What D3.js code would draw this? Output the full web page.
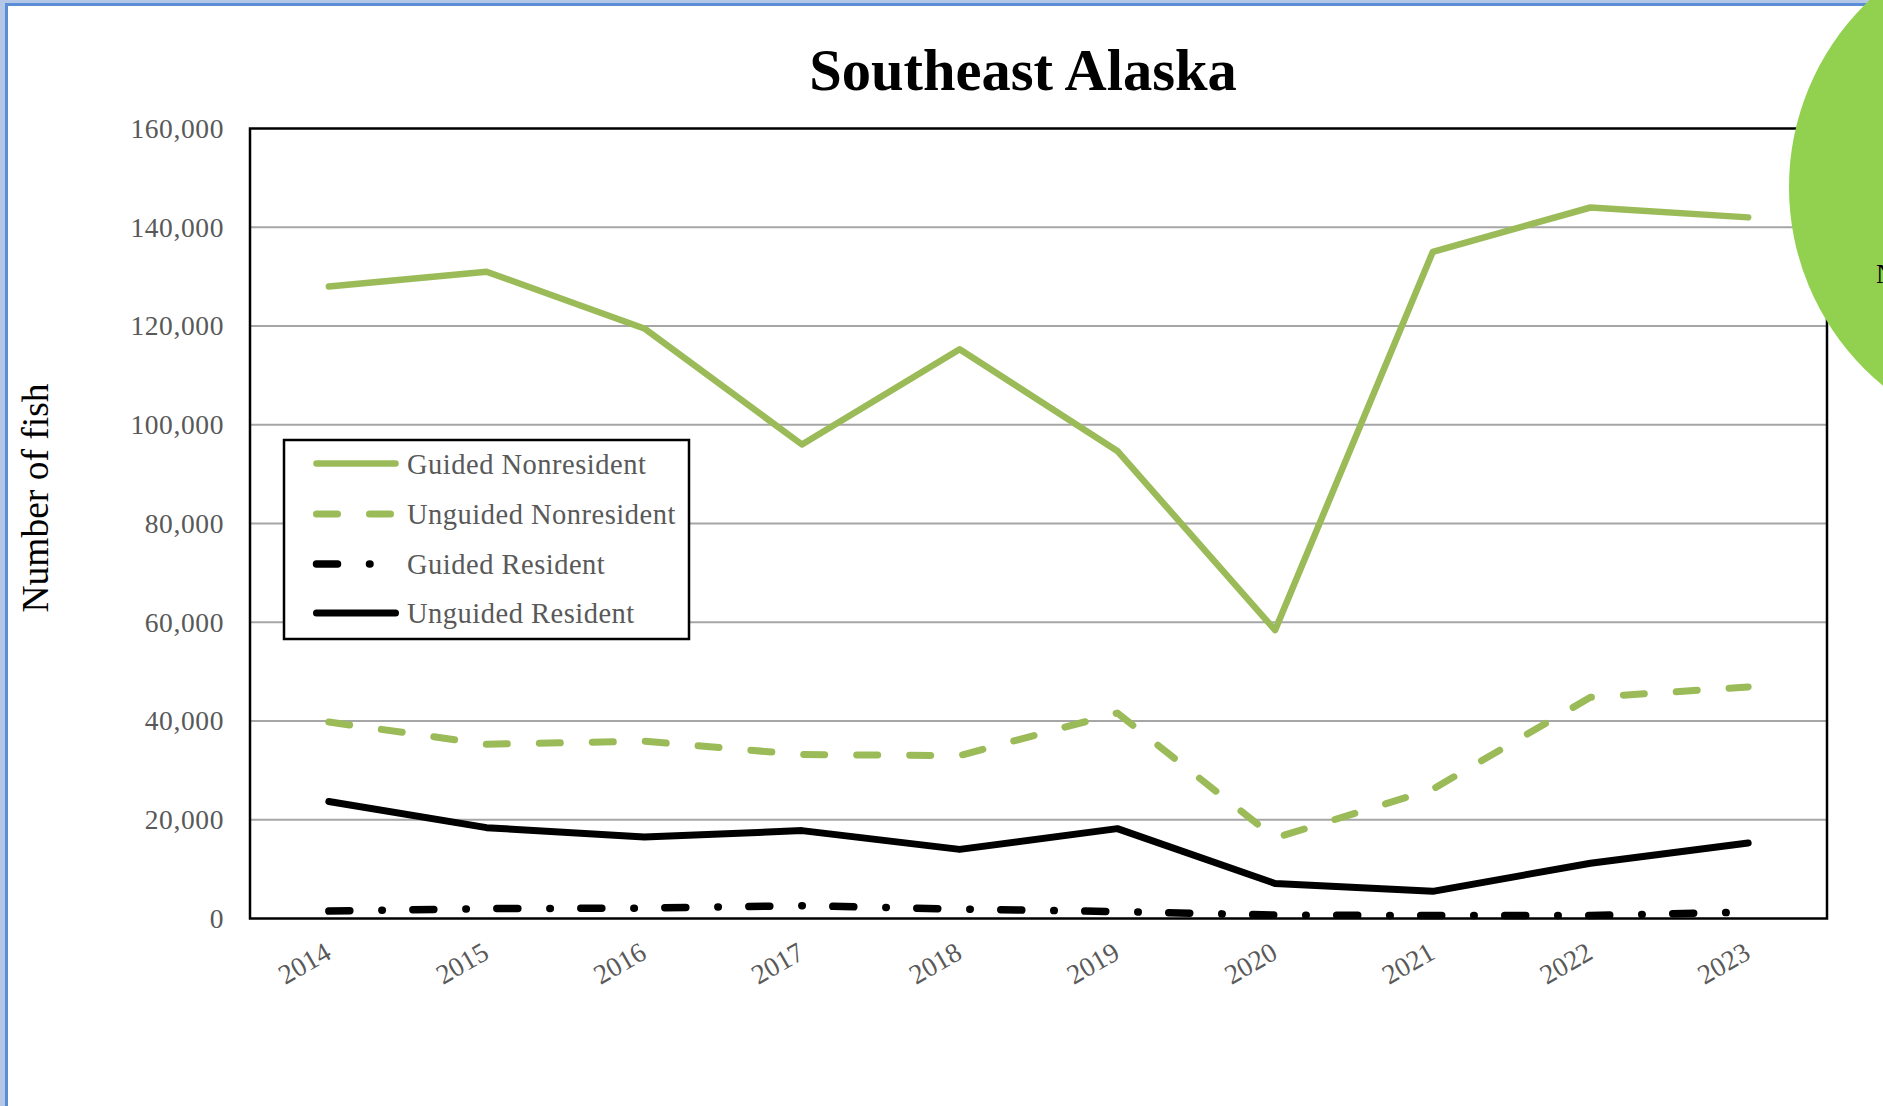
<!DOCTYPE html>
<html>
<head>
<meta charset="utf-8">
<script src="https://cdn.jsdelivr.net/npm/d3@7"></script>
<style>
  html, body { margin: 0; padding: 0; background: #ffffff; overflow: hidden; }
  svg { display: block; }
</style>
</head>
<body>
<script>
// ---- Data ----
const years = ["2014","2015","2016","2017","2018","2019","2020","2021","2022","2023"];
const guidedNonresident   = [128000,131000,119500,96000,115300,94700,58400,135000,144000,142000];
const unguidedNonresident = [39800,35300,35900,33200,33000,41600,16300,26200,44800,46900];
const guidedResident      = [1500,2000,2100,2600,1900,1400,700,600,600,1300];
const unguidedResident    = [23700,18400,16500,17800,14000,18200,7100,5500,11200,15300];
const yTicks = [0,20000,40000,60000,80000,100000,120000,140000,160000];
const seriesNames = ["Guided Nonresident","Unguided Nonresident","Guided Resident","Unguided Resident"];
const titleText = "Southeast Alaska";
const yAxisTitle = "Number of fish";

// ---- Layout ----
const W = 1883, H = 1106;
const plot = { left: 250, right: 1827, top: 128.5, bottom: 918.5 };
const green = "#9bbb59";
const serif = "'Liberation Serif', 'Times New Roman', serif";

const svg = d3.select("body").append("svg").attr("width", W).attr("height", H);

// window frame (blue)
svg.append("rect").attr("x",0).attr("y",0).attr("width",W).attr("height",H).attr("fill","#ffffff");
svg.append("rect").attr("x",0).attr("y",0).attr("width",5).attr("height",H).attr("fill","#b4c7e7");
svg.append("rect").attr("x",5).attr("y",3).attr("width",3).attr("height",H).attr("fill","#5b8ed6");
svg.append("rect").attr("x",0).attr("y",0).attr("width",W).attr("height",3).attr("fill","#b4c7e7");
svg.append("rect").attr("x",5).attr("y",3).attr("width",W).attr("height",3).attr("fill","#5b8ed6");

const x = d3.scaleBand().domain(years).range([plot.left, plot.right]).padding(0);
const y = d3.scaleLinear().domain([0,160000]).range([plot.bottom, plot.top]);
const cx = d => x(d) + x.bandwidth()/2;

// gridlines
svg.append("g").selectAll("line").data(yTicks.filter(t => t > 0 && t < 160000)).join("line")
  .attr("x1", plot.left).attr("x2", plot.right)
  .attr("y1", d => y(d)).attr("y2", d => y(d))
  .attr("stroke", "#a6a6a6").attr("stroke-width", 2);

// y axis tick labels
const yAxis = d3.axisLeft(y).tickValues(yTicks).tickSize(0).tickPadding(26)
  .tickFormat(d3.format(","));
const gy = svg.append("g").attr("transform", `translate(${plot.left},0)`).call(yAxis);
gy.select(".domain").remove();
gy.selectAll("text").attr("font-family", serif).attr("font-size", 27.5)
  .attr("letter-spacing", 0.6).attr("fill", "#595959");

// x axis tick labels (rotated)
const xAxis = d3.axisBottom(x).tickSize(0).tickPadding(0);
const gx = svg.append("g").attr("transform", `translate(0,${plot.bottom})`).call(xAxis);
gx.select(".domain").remove();
gx.selectAll("text")
  .attr("font-family", serif).attr("font-size", 27.5).attr("fill", "#595959")
  .attr("text-anchor", "end").attr("dy", null).attr("y", 0)
  .attr("transform", "translate(4,39) rotate(-30)");

// plot frame
svg.append("rect").attr("x", plot.left).attr("y", plot.top)
  .attr("width", plot.right - plot.left).attr("height", plot.bottom - plot.top)
  .attr("fill", "none").attr("stroke", "#000").attr("stroke-width", 2.5);

// series
const styles = [
  { data: guidedNonresident,   color: green,  width: 6.5, dash: null },
  { data: unguidedNonresident, color: green,  width: 7,   dash: "21,32" },
  { data: guidedResident,      color: "#000", width: 7.5, dash: "21,32,0.5,30.5" },
  { data: unguidedResident,    color: "#000", width: 7,   dash: null }
];
const line = d3.line().x((d,i) => cx(years[i])).y(d => y(d));
styles.forEach(s => {
  svg.append("path").datum(s.data).attr("d", line)
    .attr("fill", "none").attr("stroke", s.color).attr("stroke-width", s.width)
    .attr("stroke-linecap", "round").attr("stroke-linejoin", "round")
    .attr("stroke-dasharray", s.dash);
});

// legend
const lg = svg.append("g");
lg.append("rect").attr("x", 284).attr("y", 440).attr("width", 405).attr("height", 199)
  .attr("fill", "#fff").attr("stroke", "#000").attr("stroke-width", 2.5);
const rowY = [463.5, 514, 564, 613];
seriesNames.forEach((name, i) => {
  const s = styles[i];
  lg.append("line").attr("x1", 316.5).attr("x2", 395.5).attr("y1", rowY[i]).attr("y2", rowY[i])
    .attr("stroke", s.color).attr("stroke-width", s.width)
    .attr("stroke-linecap", "round").attr("stroke-dasharray", s.dash);
  lg.append("text").attr("x", 407).attr("y", rowY[i] + 10)
    .attr("font-family", serif).attr("font-size", 28.5).attr("letter-spacing", 0.5)
    .attr("fill", "#595959").text(name);
});

// title
svg.append("text").attr("x", 1023).attr("y", 90).attr("text-anchor", "middle")
  .attr("font-family", serif).attr("font-weight", "bold").attr("font-size", 58.5)
  .attr("fill", "#000").text(titleText);

// y axis title
svg.append("text").attr("transform", "translate(48,498) rotate(-90)")
  .attr("text-anchor", "middle").attr("font-family", serif).attr("font-size", 37.5)
  .attr("fill", "#000").text(yAxisTitle);

// overlapping green circle on the right edge
svg.append("circle").attr("cx", 2046).attr("cy", 187).attr("r", 257).attr("fill", "#92d050");
svg.append("text").attr("x", 1876).attr("y", 283).attr("font-family", serif)
  .attr("font-size", 27).attr("fill", "#000").text("N");
</script>
</body>
</html>
